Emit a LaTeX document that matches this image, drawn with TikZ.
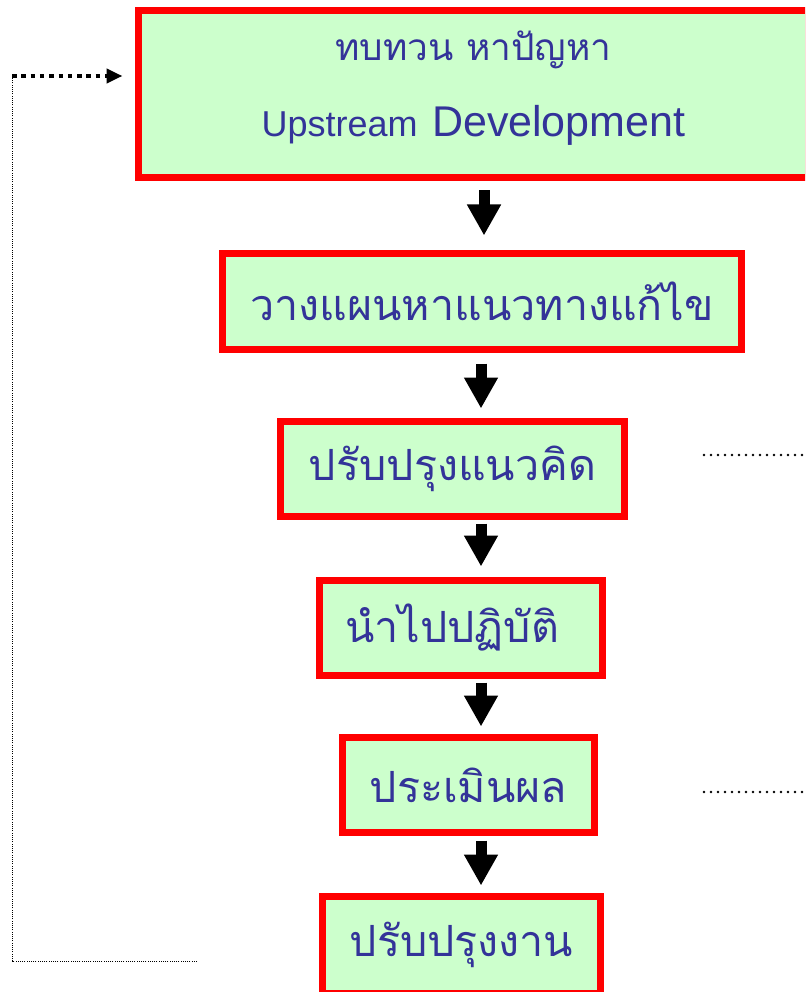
\documentclass[tikz,border=0pt]{standalone}
\usepackage{fontspec}
\setmainfont{Liberation Sans}
\newfontfamily\thai[Script=Thai]{Loma}
\usetikzlibrary{arrows.meta}
\definecolor{boxred}{RGB}{255,0,0}
\definecolor{boxfill}{RGB}{204,255,204}
\definecolor{txtblue}{RGB}{51,51,153}
\begin{document}
\begin{tikzpicture}[x=1pt,y=-1pt,
  box/.style={draw=boxred, line width=7pt, fill=boxfill, text=txtblue, inner sep=0pt,
    align=center, font=\thai\fontsize{43}{50}\selectfont},
  flow/.style={line width=11pt, -{Triangle[width=32pt,length=31pt]}},
  bigdots/.style={line width=4.5pt, dash pattern=on 4.5pt off 4.8pt,
    -{Triangle[width=14pt,length=16pt]}},
  thindots/.style={line width=1pt, dash pattern=on 1pt off 1.2pt},
  sidedots/.style={line width=2.7pt, line cap=round, dash pattern=on 0pt off 7pt}]
\useasboundingbox (0,0) rectangle (805,992);
\clip (0,0) rectangle (805,992);

\node[box, minimum width=670pt, minimum height=167pt] (b1) at (473.5,94)
  {\raisebox{0pt}[\height][\dimexpr\depth+10pt\relax]{\begin{tabular}{@{}c@{}}
   {\fontsize{37}{40}\selectfont ทบทวน หาปัญหา}\\[26pt]
   {\rmfamily\fontsize{36}{40}\selectfont Upstream} {\rmfamily\fontsize{43}{40}\selectfont Development}
   \end{tabular}}};
\node[box, minimum width=519pt, minimum height=96pt] (b2) at (482,301.5) {วางแผนหาแนวทางแก้ไข};
\node[box, minimum width=344pt, minimum height=95pt] (b3) at (452.5,469) {ปรับปรุงแนวคิด};
\node[box, minimum width=283pt, minimum height=95pt] (b4) at (461,628) {นำไปปฏิบัติ\hspace{18pt}};
\node[box, minimum width=252pt, minimum height=95pt] (b5) at (468.5,785) {ประเมินผล};
\node[box, minimum width=278pt, minimum height=97pt] (b6) at (461.5,945) {ปรับปรุงงาน};

\coordinate (ax1) at (484,0);
\coordinate (ax) at (481,0);
\draw[flow, shorten <=9.5pt, shorten >=14.5pt] (b1.south -| ax1) -- (b2.north -| ax1);
\draw[flow, shorten <=10.5pt, shorten >=9.5pt] (b2.south -| ax) -- (b3.north -| ax);
\draw[flow, shorten <=3.5pt, shorten >=10.5pt] (b3.south -| ax) -- (b4.north -| ax);
\draw[flow, shorten <=3.5pt, shorten >=7.5pt] (b4.south -| ax) -- (b5.north -| ax);
\draw[flow, shorten <=4.5pt, shorten >=7.5pt] (b5.south -| ax) -- (b6.north -| ax);

% feedback loop
\coordinate (fbstart) at (197,961);
\coordinate (fbcorner) at (12,961);
\coordinate (fbtop) at (12,76);
\draw[thindots] (fbstart) -- (fbcorner) -- (fbtop);
\draw[bigdots, shorten >=12.5pt] (fbtop) -- (b1.west |- fbtop);

% side dotted lines
\coordinate (s1a) at (704,455);
\coordinate (s1b) at (808,455);
\coordinate (s2a) at (704,792);
\coordinate (s2b) at (808,792);
\draw[sidedots] (s1a) -- (s1b);
\draw[sidedots] (s2a) -- (s2b);
\end{tikzpicture}
\end{document}
